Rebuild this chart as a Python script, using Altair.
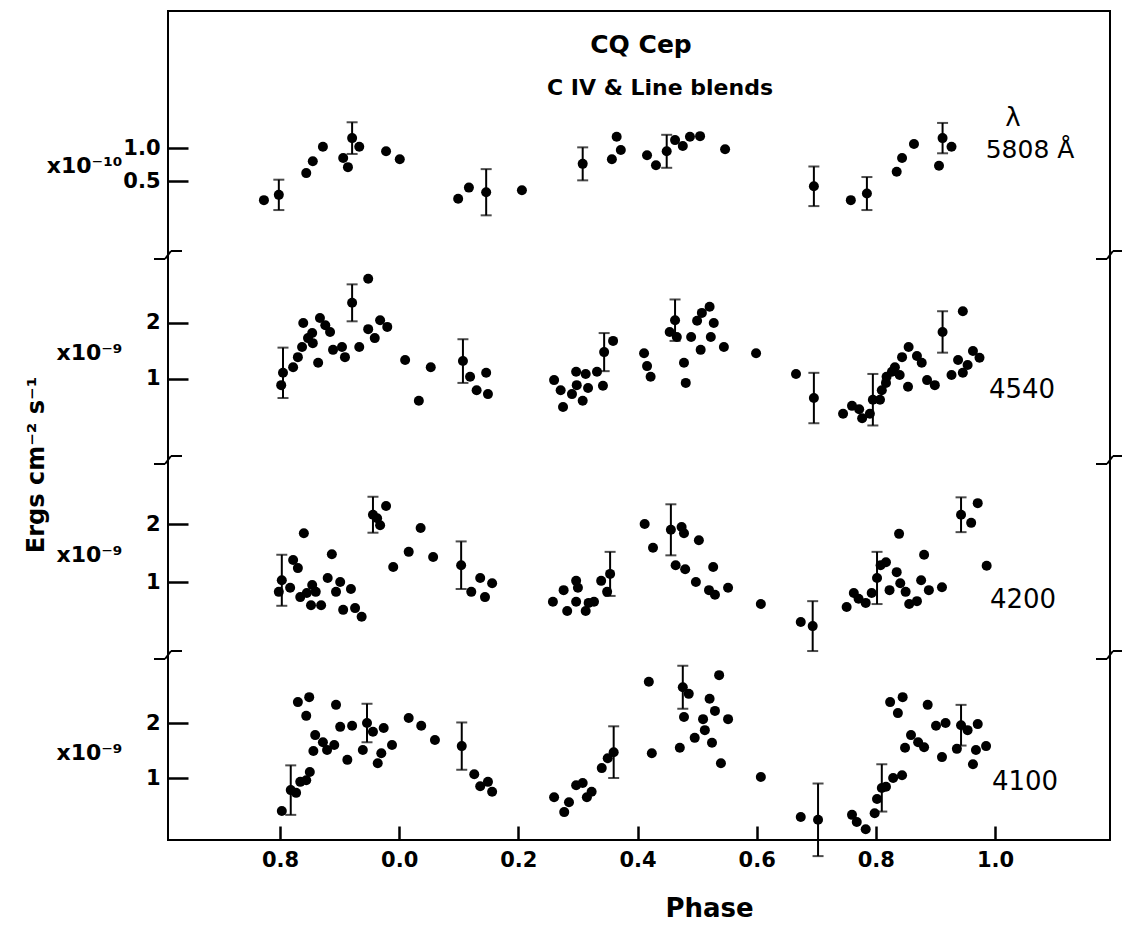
import altair as alt
import pandas as pd

FONT = "DejaVu Sans"

# ---------------- data ----------------
# 5808 A panel (x 1e-10)
phase_5808 = [0.773, 0.844, 0.855, 0.872, 0.906, 0.914, 0.933, 0.978, 1.001, 1.099, 1.117, 1.206,
              1.357, 1.365, 1.372, 1.416, 1.431, 1.463, 1.476, 1.488, 1.505, 1.547,
              1.758, 1.835, 1.844, 1.864, 1.906, 1.927]
flux_5808 = [0.21, 0.62, 0.80, 1.02, 0.85, 0.71, 1.02, 0.95, 0.83, 0.23, 0.40, 0.36,
             0.83, 1.17, 0.97, 0.89, 0.74, 1.12, 1.03, 1.17, 1.18, 0.98,
             0.21, 0.64, 0.85, 1.06, 0.73, 1.02]
err_phase_5808 = [0.798, 0.921, 1.146, 1.308, 1.449, 1.696, 1.785, 1.912]
err_flux_5808 = [0.29, 1.15, 0.33, 0.76, 0.95, 0.42, 0.31, 1.15]
err_size_5808 = [0.23, 0.24, 0.35, 0.25, 0.25, 0.30, 0.25, 0.23]

# 4540 panel (x 1e-9)
phase_4540 = [0.802, 0.822, 0.830, 0.837, 0.839, 0.847, 0.854, 0.855, 0.864, 0.867, 0.876, 0.884,
              0.889, 0.904, 0.909, 0.933, 0.948, 0.948, 0.959, 0.968, 0.980, 1.010, 1.033, 1.053,
              1.119, 1.130, 1.146, 1.149, 1.260, 1.271, 1.275, 1.290, 1.297, 1.298, 1.308, 1.313,
              1.317, 1.332, 1.342, 1.359, 1.411, 1.416, 1.422, 1.454, 1.466, 1.478, 1.481, 1.490,
              1.500, 1.508, 1.521, 1.528, 1.506, 1.523, 1.545, 1.599, 1.666, 1.745, 1.760, 1.772,
              1.777, 1.790, 1.807, 1.810, 1.817, 1.818, 1.827, 1.832, 1.840, 1.844, 1.854, 1.855,
              1.869, 1.877, 1.886, 1.899, 1.927, 1.938, 1.946, 1.946, 1.954, 1.963, 1.974]
flux_4540 = [0.89, 1.21, 1.39, 1.57, 2.00, 1.73, 1.82, 1.64, 1.29, 2.09, 1.96, 1.84,
             1.52, 1.57, 1.39, 1.57, 2.79, 1.89, 1.73, 2.05, 1.93, 1.34, 0.61, 1.21,
             1.04, 0.80, 1.11, 0.73, 0.98, 0.80, 0.50, 0.73, 1.13, 0.89, 0.61, 1.09,
             0.84, 1.13, 0.88, 1.68, 1.46, 1.23, 1.04, 1.84, 1.75, 1.29, 0.93, 1.75,
             2.04, 2.18, 2.29, 2.00, 1.52, 1.75, 1.57, 1.46, 1.09, 0.38, 0.52, 0.46,
             0.30, 0.38, 0.63, 0.80, 0.93, 1.04, 1.13, 1.21, 1.07, 1.39, 0.86, 1.57,
             1.41, 1.29, 0.98, 0.89, 1.07, 1.34, 1.11, 2.21, 1.25, 1.50, 1.38]
err_phase_4540 = [0.805, 0.921, 1.107, 1.344, 1.463, 1.696, 1.795, 1.912]
err_flux_4540 = [1.11, 2.36, 1.32, 1.48, 2.05, 0.66, 0.63, 1.84]
err_size_4540 = [0.45, 0.33, 0.39, 0.34, 0.37, 0.45, 0.46, 0.37]

# 4200 panel (x 1e-9)
phase_4200 = [0.798, 0.817, 0.822, 0.830, 0.840, 0.834, 0.845, 0.854, 0.852, 0.860, 0.869, 0.880,
              0.887, 0.894, 0.901, 0.906, 0.919, 0.926, 0.937, 0.968, 0.978, 0.963, 0.990, 1.016,
              1.036, 1.057, 1.121, 1.136, 1.144, 1.156, 1.258, 1.276, 1.282, 1.297, 1.297, 1.313,
              1.300, 1.318, 1.327, 1.339, 1.349, 1.412, 1.426, 1.474, 1.478, 1.503, 1.464, 1.480,
              1.527, 1.498, 1.520, 1.530, 1.552, 1.607, 1.674, 1.751, 1.763, 1.771, 1.783, 1.793,
              1.808, 1.817, 1.835, 1.839, 1.823, 1.841, 1.850, 1.856, 1.869, 1.876, 1.881, 1.889,
              1.911, 1.960, 1.971, 1.986]
flux_4200 = [0.83, 0.90, 1.38, 1.24, 1.84, 0.74, 0.81, 0.95, 0.60, 0.83, 0.60, 1.07,
             1.48, 0.83, 1.00, 0.52, 0.88, 0.55, 0.40, 1.98, 2.31, 2.10, 1.26, 1.52,
             1.93, 1.43, 0.83, 1.07, 0.74, 0.98, 0.66, 0.86, 0.50, 1.02, 0.66, 0.50,
             0.90, 0.64, 0.66, 1.02, 0.83, 2.00, 1.59, 1.95, 1.84, 1.72, 1.29, 1.22,
             1.26, 1.00, 0.86, 0.78, 0.90, 0.62, 0.31, 0.57, 0.81, 0.71, 0.64, 0.81,
             1.29, 1.34, 1.17, 1.83, 0.86, 0.98, 0.83, 0.62, 0.67, 1.03, 1.47, 0.86,
             0.91, 2.02, 2.36, 1.28]
err_phase_4200 = [0.803, 0.956, 1.104, 1.354, 1.456, 1.694, 1.802, 1.943]
err_flux_4200 = [1.03, 2.16, 1.29, 1.14, 1.90, 0.24, 1.07, 2.16]
err_size_4200 = [0.44, 0.31, 0.41, 0.38, 0.44, 0.43, 0.45, 0.30]

# 4100 panel (x 1e-9)
phase_4100 = [0.803, 0.827, 0.834, 0.844, 0.850, 0.830, 0.849, 0.844, 0.856, 0.859, 0.872, 0.879,
              0.891, 0.894, 0.901, 0.913, 0.921, 0.939, 0.956, 0.964, 0.970, 0.974, 0.988, 1.016,
              1.037, 1.060, 1.126, 1.136, 1.149, 1.156, 1.260, 1.277, 1.285, 1.297, 1.308, 1.315,
              1.323, 1.340, 1.350, 1.419, 1.424, 1.471, 1.486, 1.478, 1.496, 1.510, 1.513, 1.521,
              1.525, 1.530, 1.537, 1.540, 1.552, 1.607, 1.674, 1.760, 1.768, 1.783, 1.798, 1.802,
              1.817, 1.829, 1.844, 1.849, 1.859, 1.871, 1.881, 1.824, 1.845, 1.837, 1.887, 1.901,
              1.917, 1.911, 1.936, 1.954, 1.963, 1.971, 1.968, 1.985]
flux_4100 = [0.40, 0.73, 0.93, 0.96, 1.11, 2.38, 2.47, 2.13, 1.49, 1.78, 1.65, 1.51,
             1.60, 2.33, 1.93, 1.33, 1.95, 1.51, 1.84, 1.27, 1.45, 1.91, 1.60, 2.09,
             1.95, 1.69, 1.07, 0.85, 0.93, 0.75, 0.65, 0.38, 0.56, 0.87, 0.91, 0.65,
             0.75, 1.18, 1.36, 2.75, 1.45, 1.55, 2.53, 2.11, 1.73, 2.07, 1.87, 2.44,
             1.64, 2.22, 2.87, 1.27, 2.07, 1.02, 0.29, 0.33, 0.20, 0.07, 0.36, 0.62,
             0.84, 1.00, 1.05, 1.55, 1.78, 1.65, 1.56, 2.38, 2.47, 2.18, 2.33, 1.95,
             2.00, 1.38, 1.53, 1.87, 1.25, 1.98, 1.51, 1.58]
err_phase_4100 = [0.818, 0.946, 1.105, 1.360, 1.476, 1.703, 1.810, 1.943]
err_flux_4100 = [0.78, 2.00, 1.58, 1.47, 2.65, 0.24, 0.82, 1.96]
err_size_4100 = [0.45, 0.35, 0.43, 0.47, 0.39, 0.66, 0.43, 0.37]

phase_ticks = [0.8, 1.0, 1.2, 1.4, 1.6, 1.8, 2.0]

# ---------------- layout ----------------
W, H = 942, 829
X_DOMAIN = [0.612, 2.193]
x_scale = alt.Scale(domain=X_DOMAIN, nice=False, zero=False)

# inward x ticks drawn as a dashed grid: a 14 px dash at the bottom end of each grid line
x_axis = alt.Axis(values=phase_ticks,
                  labelExpr="datum.value >= 1.95 ? format(datum.value - 1, '.1f') : format(datum.value % 1, '.1f')",
                  ticks=False, domain=False,
                  grid=True, gridColor="black", gridOpacity=1, gridWidth=2.5,
                  gridDash=[14, 2000], gridDashOffset=2014 - (H - 14),
                  labelPadding=9, labelFont=FONT, labelFontSize=21, labelFontWeight="bold", labelColor="black",
                  title="Phase", titleFont=FONT, titleFontSize=26, titleFontWeight="bold", titleColor="black",
                  titleX=541, titleY=68, titleAlign="center", titleBaseline="middle")


def X(field="phase"):
    return alt.X(f"{field}:Q", scale=x_scale, axis=x_axis)


def y_axis(ticks, fmt, unit, title_y):
    # inward y ticks drawn as a dashed grid: a 20 px dash at the left end of each grid line
    return alt.Axis(orient="left", values=ticks, format=fmt, ticks=False, domain=False,
                    grid=True, gridColor="black", gridOpacity=1, gridWidth=2.5, gridDash=[20, 2000],
                    labelPadding=8, labelFont=FONT, labelFontSize=21, labelFontWeight="bold",
                    labelColor="black",
                    title=unit, titleAngle=0, titleAlign="right", titleBaseline="middle",
                    titleX=-46, titleY=title_y, titleFont=FONT, titleFontSize=22,
                    titleFontWeight="bold", titleColor="black")


def seg(x1, y1, x2, y2, width=2):
    return alt.Chart(pd.DataFrame({"k": [0]})).mark_rule(color="black", strokeWidth=width).encode(
        x=alt.value(x1), y=alt.value(y1), x2=alt.value(x2), y2=alt.value(y2))


def panel(phase, flux, ephase, eflux, esize, domain, ticks, fmt, unit, title_y):
    pts = pd.DataFrame({"phase": phase + ephase, "flux": flux + eflux})
    err = pd.DataFrame({"phase": ephase, "flux": eflux, "err": esize})
    err["lo"] = err["flux"] - err["err"]
    err["hi"] = err["flux"] + err["err"]

    def ys():
        return alt.Scale(domain=domain, nice=False, zero=False)

    points = alt.Chart(pts).mark_circle(size=100, color="black", opacity=1).encode(
        x=X(), y=alt.Y("flux:Q", scale=ys(), axis=y_axis(ticks, fmt, unit, title_y)),
    )
    bars = alt.Chart(err).mark_rule(color="black", strokeWidth=2).encode(
        x=X(), y=alt.Y("lo:Q", scale=ys(), axis=None), y2="hi:Q",
    )
    cap_lo = alt.Chart(err).mark_tick(color="black", orient="horizontal", size=11, thickness=2).encode(
        x=X(), y=alt.Y("lo:Q", scale=ys(), axis=None),
    )
    cap_hi = alt.Chart(err).mark_tick(color="black", orient="horizontal", size=11, thickness=2).encode(
        x=X(), y=alt.Y("hi:Q", scale=ys(), axis=None),
    )
    return [points, bars, cap_lo, cap_hi]


layers = []
layers += panel(phase_5808, flux_5808, err_phase_5808, err_flux_5808, err_size_5808,
                [-9.485, 3.076], [0.5, 1.0], ".1f", "x10\u207b\u00b9\u2070", 154)
layers += panel(phase_4540, flux_4540, err_phase_4540, err_flux_4540, err_size_4540,
                [-7.232, 7.571], [1, 2], "d", "x10\u207b\u2079", 341)
layers += panel(phase_4200, flux_4200, err_phase_4200, err_flux_4200, err_size_4200,
                [-3.448, 10.845], [1, 2], "d", "x10\u207b\u2079", 543)
layers += panel(phase_4100, flux_4100, err_phase_4100, err_flux_4100, err_size_4100,
                [-0.127, 14.945], [1, 2], "d", "x10\u207b\u2079", 741)


def note(text, x, y, size, weight="bold", angle=0):
    return alt.Chart(pd.DataFrame({"label": [text]})).mark_text(
        font=FONT, fontSize=size, fontWeight=weight, angle=angle, color="black",
        align="center", baseline="middle").encode(x=alt.value(x), y=alt.value(y), text="label:N")


notes = [
    note("CQ Cep", 473, 34, 25),
    note("C IV & Line blends", 492, 77, 22),
    note("\u03bb", 845, 107, 26, "normal"),
    note("5808 \u00c5", 862, 139, 25, "normal"),
    note("4540", 854, 379, 26, "normal"),
    note("4200", 855, 589, 26, "normal"),
    note("4100", 857, 771, 26, "normal"),
    note("Ergs cm\u207b\u00b2 s\u207b\u00b9", -131, 454, 24, "bold", 270),
]


def brk(cx, cy):
    return [seg(cx - 14, cy + 4, cx - 3, cy + 4), seg(cx - 3, cy + 4, cx + 3, cy - 4),
            seg(cx + 3, cy - 4, cx + 14, cy - 4)]


breaks = []
for yb in [244, 449, 644]:
    breaks += brk(0, yb)
    breaks += brk(W, yb)

chart = alt.layer(*layers, *notes, *breaks).resolve_scale(y="independent").properties(
    width=W, height=H, autosize="none",
    padding={"left": 168, "top": 11, "right": 12, "bottom": 88},
).configure_view(stroke="black", strokeWidth=2)

chart.save("out.html", embed_options={"renderer": "svg", "actions": False})
